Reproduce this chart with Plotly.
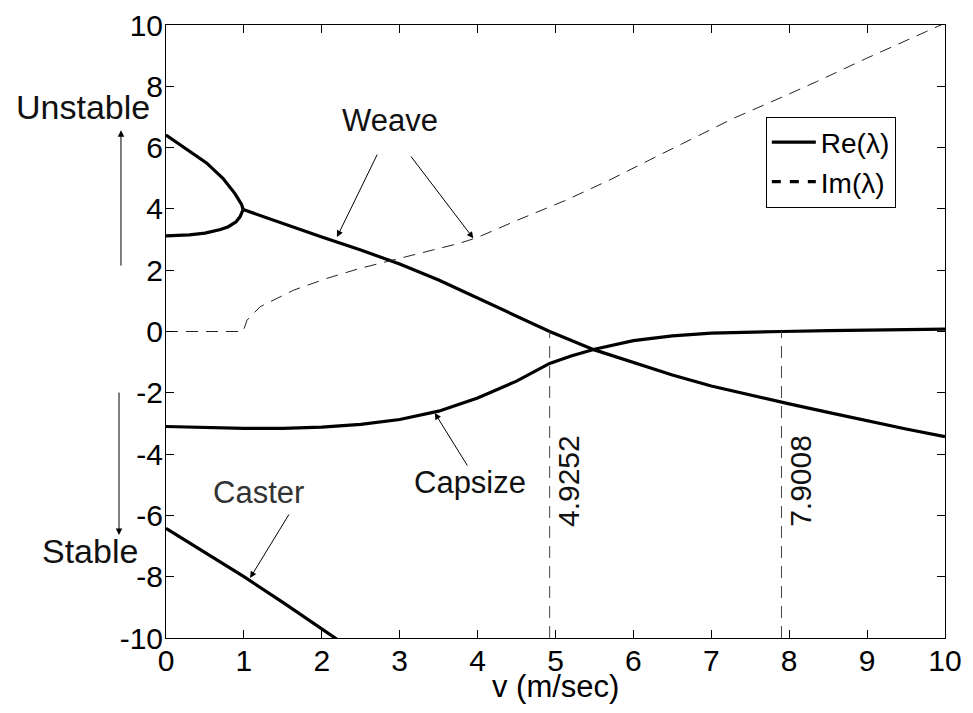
import plotly.graph_objects as go

# ---- data ----
v_weave_upper = [0.0, 0.24, 0.52, 0.73, 0.885, 0.97, 0.99]
re_weave_upper = [6.41, 6.0, 5.5, 5.0, 4.5, 4.15, 3.98]

v_weave_lower = [0.0, 0.3, 0.5, 0.7, 0.8, 0.9, 0.95, 0.99]
re_weave_lower = [3.12, 3.15, 3.21, 3.33, 3.42, 3.58, 3.74, 3.98]

v_weave = [0.99, 1.5, 2.0, 2.5, 3.0, 3.5, 4.0, 4.5, 4.9252, 5.5, 6.0, 6.5, 7.0,
           7.5, 8.0, 8.5, 9.0, 9.5, 10.0]
re_weave = [3.98, 3.52, 3.08, 2.66, 2.2, 1.68, 1.1, 0.5, 0.0, -0.6, -1.02, -1.42,
            -1.78, -2.08, -2.36, -2.64, -2.92, -3.18, -3.43]

v_capsize = [0.0, 0.5, 1.0, 1.5, 2.0, 2.5, 3.0, 3.5, 4.0, 4.5, 4.9252, 5.2, 5.5,
             6.0, 6.5, 7.0, 7.5, 7.9008, 8.5, 9.0, 9.5, 10.0]
re_capsize = [-3.1, -3.13, -3.16, -3.16, -3.12, -3.03, -2.87, -2.6, -2.17, -1.62,
              -1.04, -0.8, -0.58, -0.3, -0.14, -0.05, -0.01, 0.0, 0.03, 0.05, 0.07, 0.08]

v_caster = [0.0, 0.5, 1.0, 1.5, 2.0, 2.2]
re_caster = [-6.42, -7.2, -8.0, -8.84, -9.7, -10.05]

v_im = [0.0, 0.99, 1.04, 1.21, 1.64, 2.06, 2.49, 2.92, 3.35, 3.77, 3.99, 4.5, 5.14,
        5.7, 6.21, 6.75, 7.28, 7.92, 8.35, 8.99, 9.53, 9.81, 10.0]
im_weave = [0.0, 0.0, 0.37, 0.81, 1.35, 1.73, 2.06, 2.33, 2.6, 2.88, 3.06, 3.62, 4.29,
            4.95, 5.6, 6.28, 6.95, 7.66, 8.15, 8.91, 9.52, 9.84, 10.06]

crit_speeds = [4.9252, 7.9008]
crit_labels = ["4.9252", "7.9008"]

x_ticks = [0, 1, 2, 3, 4, 5, 6, 7, 8, 9, 10]
x_ticktext = [str(t) for t in x_ticks]
y_ticks = [-10, -8, -6, -4, -2, 0, 2, 4, 6, 8, 10]
y_ticktext = [str(t) for t in y_ticks]  # hyphen minus like MATLAB

FONT = "Liberation Sans, Arial, Helvetica, sans-serif"
BLACK = "#000000"
THICK = 3.2

fig = go.Figure()

# Re(lambda) – weave main branch (legend entry)
fig.add_trace(go.Scatter(x=v_weave, y=re_weave, mode="lines", name="Re(λ)",
                         line=dict(color=BLACK, width=THICK), showlegend=True))
fig.add_trace(go.Scatter(x=v_weave_upper, y=re_weave_upper, mode="lines",
                         line=dict(color=BLACK, width=THICK), showlegend=False))
fig.add_trace(go.Scatter(x=v_weave_lower, y=re_weave_lower, mode="lines",
                         line=dict(color=BLACK, width=THICK), showlegend=False))
fig.add_trace(go.Scatter(x=v_capsize, y=re_capsize, mode="lines",
                         line=dict(color=BLACK, width=THICK), showlegend=False))
fig.add_trace(go.Scatter(x=v_caster, y=re_caster, mode="lines",
                         line=dict(color=BLACK, width=THICK), showlegend=False))

# Im(lambda)
fig.add_trace(go.Scatter(x=v_im, y=im_weave, mode="lines",
                         line=dict(color="#222222", width=1, dash="12px,8px"),
                         showlegend=False))
# legend-only entry for Im (thicker sample, like the reference legend)
fig.add_trace(go.Scatter(x=[None], y=[None], mode="lines", name="Im(λ)",
                         line=dict(color=BLACK, width=THICK, dash="9px,9px"),
                         showlegend=True))

# critical-speed vertical dashed lines
for vc in crit_speeds:
    fig.add_trace(go.Scatter(x=[vc, vc], y=[y_ticks[0], 0], mode="lines",
                             line=dict(color="#444444", width=1, dash="12px,8px"),
                             showlegend=False))

annotations = []
for vc, lab in zip(crit_speeds, crit_labels):
    annotations.append(dict(x=vc + 0.235, y=-4.88, xref="x", yref="y", text=lab,
                            textangle=-90, showarrow=False,
                            xanchor="center", yanchor="middle",
                            font=dict(family=FONT, size=30, color="#111111")))

# text labels
annotations += [
    dict(x=2.875, y=6.9, xref="x", yref="y", text="Weave", showarrow=False,
         xanchor="center", yanchor="middle",
         font=dict(family=FONT, size=31, color="#111111")),
    dict(x=3.90, y=-4.94, xref="x", yref="y", text="Capsize", showarrow=False,
         xanchor="center", yanchor="middle",
         font=dict(family=FONT, size=31, color="#111111")),
    dict(x=1.19, y=-5.24, xref="x", yref="y", text="Caster", showarrow=False,
         xanchor="center", yanchor="middle",
         font=dict(family=FONT, size=31, color="#333333")),
    dict(x=-0.1065, y=7.32, xref="paper", yref="y", text="Unstable", showarrow=False,
         xanchor="center", yanchor="middle",
         font=dict(family=FONT, size=34, color="#111111")),
    dict(x=-0.0976, y=-7.16, xref="paper", yref="y", text="Stable", showarrow=False,
         xanchor="center", yanchor="middle",
         font=dict(family=FONT, size=34, color="#111111")),
    dict(x=0.5, y=-0.079, xref="paper", yref="paper", text="v (m/sec)",
         showarrow=False, xanchor="center", yanchor="middle",
         font=dict(family=FONT, size=31, color=BLACK)),
]

# arrows (head at x,y ; tail at ax,ay)
arrow_style = dict(showarrow=True, arrowhead=2, arrowsize=1.3, arrowwidth=1,
                   arrowcolor=BLACK, text="")
for (hx, hy, tx, ty) in [(2.195, 3.08, 2.72, 5.82),
                         (3.945, 3.04, 3.13, 5.76),
                         (3.45, -2.66, 3.88, -4.42),
                         (1.08, -8.04, 1.59, -5.92)]:
    annotations.append(dict(x=hx, y=hy, ax=tx, ay=ty, xref="x", yref="y",
                            axref="x", ayref="y", **arrow_style))
annotations.append(dict(x=-0.0578, y=6.57, ax=0, ay=137, xref="paper", yref="y",
                        axref="pixel", ayref="pixel", **arrow_style))
annotations.append(dict(x=-0.0603, y=-6.64, ax=0, ay=-144, xref="paper", yref="y",
                        axref="pixel", ayref="pixel", **arrow_style))

axis_common = dict(showgrid=False, zeroline=False, showline=True, linecolor=BLACK,
                   linewidth=1, mirror="allticks", ticks="inside", ticklen=8,
                   tickcolor=BLACK, tickwidth=1, automargin=False,
                   tickfont=dict(family=FONT, size=30, color=BLACK))

# page body adds an 8px offset, so margins are trimmed accordingly
fig.update_layout(
    width=973, height=713,
    margin=dict(l=158, r=36, t=17, b=83),
    paper_bgcolor="white", plot_bgcolor="white",
    font=dict(family=FONT, color=BLACK),
    xaxis=dict(range=[0, 10], tickvals=x_ticks, ticktext=x_ticktext,
               ticklabelstandoff=-4, **axis_common),
    yaxis=dict(range=[-10, 10], tickvals=y_ticks, ticktext=y_ticktext,
               ticklabelstandoff=-4, **axis_common),
    legend=dict(x=0.770, y=0.7765, xanchor="left", yanchor="middle",
                bgcolor="white", bordercolor=BLACK, borderwidth=1,
                font=dict(family=FONT, size=28, color=BLACK),
                tracegroupgap=0, itemwidth=44),
    annotations=annotations,
    showlegend=True,
)

fig.write_html("out.html")
